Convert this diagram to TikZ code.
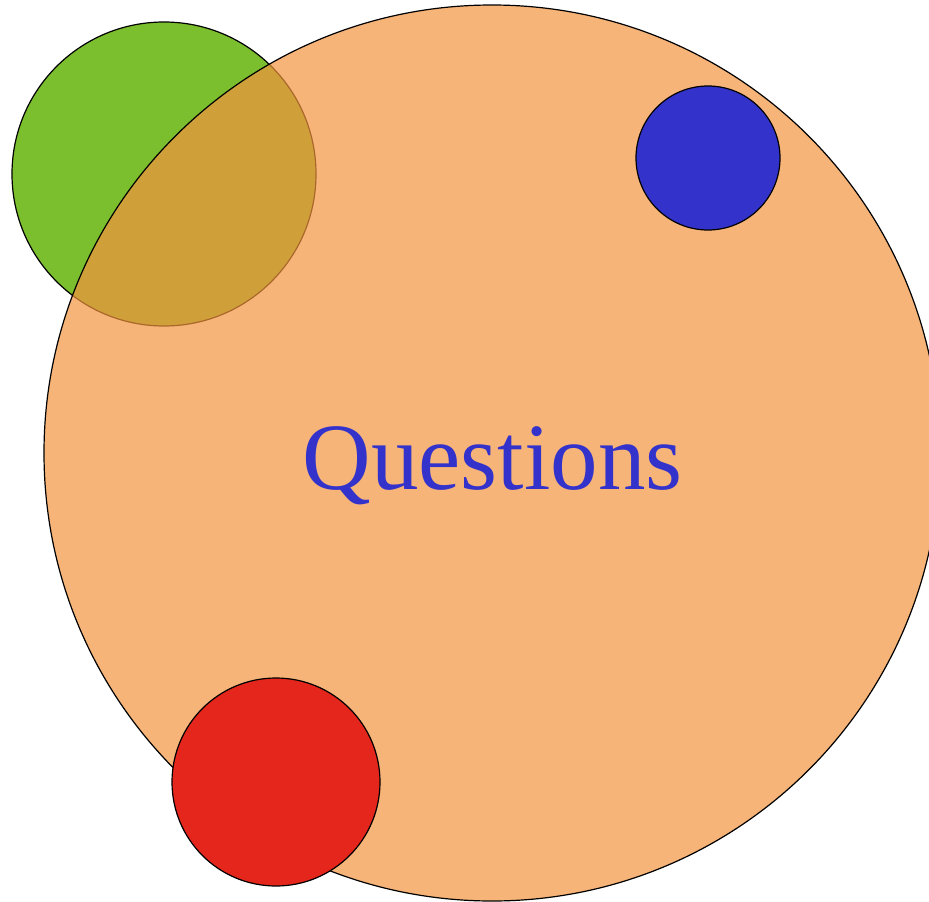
\documentclass[tikz,border=0pt]{standalone}
\usepackage{fontspec}
\setmainfont{Liberation Serif}
\definecolor{greenC}{RGB}{123,191,46}
\definecolor{orangeC}{RGB}{244,148,62}
\definecolor{blueC}{RGB}{51,51,204}
\definecolor{redC}{RGB}{229,38,28}
\begin{document}
\begin{tikzpicture}[x=1pt,y=-1pt,
  ball/.style={circle, draw=black, line width=1.2pt, inner sep=0pt}]
\useasboundingbox (0,0) rectangle (929,902);
\node[ball, fill=greenC, minimum size=304pt] (green) at (164,174) {};
\node[ball, fill=orangeC, fill opacity=0.7, minimum size=896pt] (big) at (492,453) {};
\node[ball, fill=blueC, minimum size=144pt] (blue) at (708,158) {};
\node[ball, fill=redC, minimum size=208pt] (red) at (276,782) {};
\node[anchor=base, text=blueC, font=\fontsize{95}{100}\selectfont, inner sep=0pt] (q) at (492.5,489) {Questions};
\end{tikzpicture}
\end{document}
